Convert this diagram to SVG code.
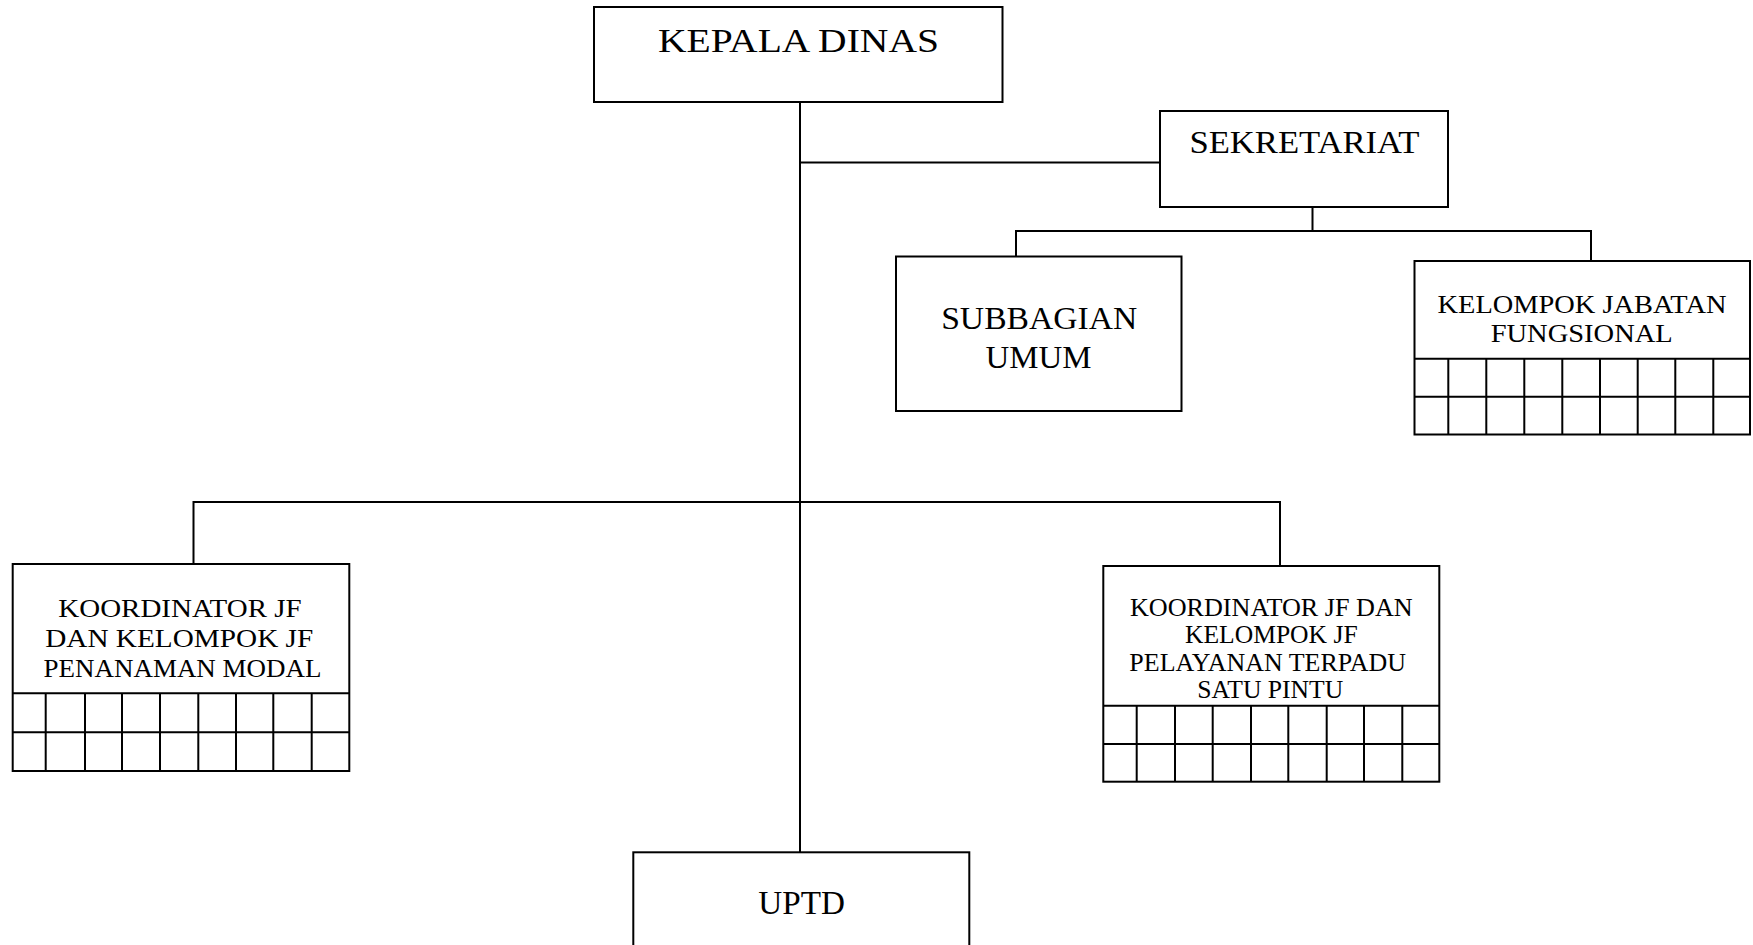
<svg xmlns="http://www.w3.org/2000/svg" width="1753" height="945" viewBox="0 0 1753 945">
<style>
  .box { fill: #fff; stroke: #000; stroke-width: 2; }
  .ln { fill: none; stroke: #000; stroke-width: 2; }
  .t { font-family: "Liberation Serif", "Times New Roman", serif; fill: #000; text-anchor: middle; }
  .big { font-size: 34px; }
  .mid { font-size: 32px; }
  .sm { font-size: 26px; }
  .xs { font-size: 25px; }
</style>
<rect width="1753" height="945" fill="#fff"/>
<g id="connectors">
  <path class="ln" d="M800 102 V852"/>
  <path class="ln" d="M800 162.5 H1160"/>
  <path class="ln" d="M1312.5 207 V231 M1016 256.5 V231 H1591 V261"/>
  <path class="ln" d="M193.5 564 V502 H1280 V566"/>
</g>
<g id="kepala-dinas">
  <rect class="box" x="594" y="7" width="408.5" height="95"/>
  <text class="t big" x="798.5" y="51.5" textLength="281" lengthAdjust="spacingAndGlyphs">KEPALA DINAS</text>
</g>
<g id="sekretariat">
  <rect class="box" x="1160" y="111" width="288" height="96"/>
  <text class="t mid" x="1304.4" y="153" textLength="230" lengthAdjust="spacingAndGlyphs">SEKRETARIAT</text>
</g>
<g id="subbagian-umum">
  <rect class="box" x="896" y="256.5" width="285.5" height="154.5"/>
  <text class="t mid" x="1039.2" y="329" textLength="196" lengthAdjust="spacingAndGlyphs">SUBBAGIAN</text>
  <text class="t mid" x="1038.4" y="367.5" textLength="106" lengthAdjust="spacingAndGlyphs">UMUM</text>
</g>
<g id="kelompok-jabatan-fungsional">
  <rect class="box" x="1414.5" y="261" width="335.5" height="173.5"/>
  <text class="t sm" x="1582" y="312.5" textLength="289" lengthAdjust="spacingAndGlyphs">KELOMPOK JABATAN</text>
  <text class="t sm" x="1581.7" y="342.3" textLength="182" lengthAdjust="spacingAndGlyphs">FUNGSIONAL</text>
  <path class="ln" d="M1414.5 358.7 H1750 M1414.5 396.7 H1750 M1448.3 358.7 V434.5 M1486.3 358.7 V434.5 M1524.3 358.7 V434.5 M1562.3 358.7 V434.5 M1600 358.7 V434.5 M1637.7 358.7 V434.5 M1675.3 358.7 V434.5 M1713.3 358.7 V434.5"/>
</g>
<g id="koordinator-penanaman-modal">
  <rect class="box" x="12.7" y="564" width="336.6" height="207"/>
  <text class="t sm" x="180" y="617.3" textLength="243.4" lengthAdjust="spacingAndGlyphs">KOORDINATOR JF</text>
  <text class="t sm" x="179.2" y="647.3" textLength="268" lengthAdjust="spacingAndGlyphs">DAN KELOMPOK JF</text>
  <text class="t sm" x="182.5" y="676.7" textLength="278" lengthAdjust="spacingAndGlyphs">PENANAMAN MODAL</text>
  <path class="ln" d="M12.7 693.3 H349.3 M12.7 732.3 H349.3 M45.7 693.3 V771 M85 693.3 V771 M122 693.3 V771 M160 693.3 V771 M198.3 693.3 V771 M236 693.3 V771 M273.3 693.3 V771 M311.7 693.3 V771"/>
</g>
<g id="koordinator-ptsp">
  <rect class="box" x="1103.3" y="566" width="336" height="215.7"/>
  <text class="t xs" x="1271.3" y="615.7" textLength="282.7" lengthAdjust="spacingAndGlyphs">KOORDINATOR JF DAN</text>
  <text class="t xs" x="1271.3" y="643.3" textLength="172.7" lengthAdjust="spacingAndGlyphs">KELOMPOK JF</text>
  <text class="t xs" x="1267.7" y="670.7" textLength="276.7" lengthAdjust="spacingAndGlyphs">PELAYANAN TERPADU</text>
  <text class="t xs" x="1270.3" y="698.3" textLength="146" lengthAdjust="spacingAndGlyphs">SATU PINTU</text>
  <path class="ln" d="M1103.3 705.7 H1439.3 M1103.3 744 H1439.3 M1136.7 705.7 V781.7 M1175 705.7 V781.7 M1212.7 705.7 V781.7 M1251 705.7 V781.7 M1288.3 705.7 V781.7 M1326.7 705.7 V781.7 M1364 705.7 V781.7 M1402.3 705.7 V781.7"/>
</g>
<g id="uptd">
  <rect class="box" x="633.3" y="852.3" width="336" height="120"/>
  <text class="t big" x="801.7" y="914" textLength="86.7" lengthAdjust="spacingAndGlyphs">UPTD</text>
</g>
</svg>
